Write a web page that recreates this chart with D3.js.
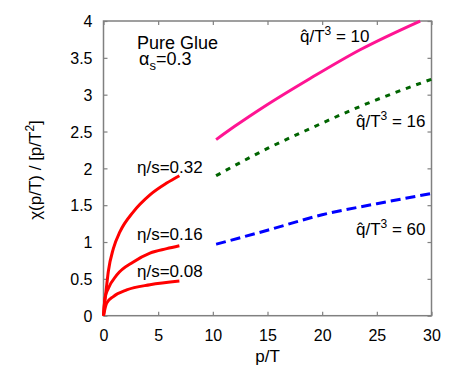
<!DOCTYPE html>
<html lang="en">
<head>
    <meta charset="UTF-8">
    <title>Pure Glue chi(p/T)</title>
    <script src="https://d3js.org/d3.v7.min.js"></script>
    <style>
        body {
            margin: 0;
            background-color: #ffffff;
            font-family: "Liberation Sans", Arial, sans-serif;
        }
        .tick text { font-size: 16px; fill: #000; }
        .lbl { fill: #000; }
    </style>
</head>
<body>
    <div id="chart"></div>

    <script>
        // values
        const xTicks = [0, 5, 10, 15, 20, 25, 30];
        const yTicks = [0, 0.5, 1, 1.5, 2, 2.5, 3, 3.5, 4];

        const eta032X = [0, 0.05, 0.23, 0.44, 0.9, 1.51, 2.73, 4.25, 5.78, 6.94];
        const eta032Y = [0, 0.10, 0.33, 0.60, 0.91, 1.14, 1.41, 1.64, 1.80, 1.90];
        const eta016X = [0, 0.14, 0.44, 1.2, 2.73, 4.25, 5.78, 6.94];
        const eta016Y = [0, 0.24, 0.37, 0.55, 0.73, 0.85, 0.91, 0.95];
        const eta008X = [0, 0.29, 0.9, 2.12, 4.25, 6.94];
        const eta008Y = [0, 0.17, 0.26, 0.35, 0.42, 0.47];

        const q10X = [10.3, 12, 14.93, 18.9, 23.47, 28.96];
        const q10Y = [2.39, 2.57, 2.86, 3.22, 3.61, 4.0];
        const q16X = [10.3, 15, 18.9, 23.47, 30];
        const q16Y = [1.90, 2.27, 2.54, 2.84, 3.21];
        const q60X = [10.3, 15, 20, 25, 30];
        const q60Y = [0.97, 1.16, 1.37, 1.52, 1.66];

        const W = 457, H = 371;
        const margin = {left: 103.5, top: 21, right: 25.5, bottom: 55.3};
        const w = W - margin.left - margin.right;
        const h = H - margin.top - margin.bottom;

        const svg = d3.select('#chart').append('svg')
            .attr('width', W)
            .attr('height', H);

        const g = svg.append('g')
            .attr('transform', `translate(${margin.left},${margin.top})`);

        const x = d3.scaleLinear().domain([0, 30]).range([0, w]);
        const y = d3.scaleLinear().domain([0, 4]).range([h, 0]);

        const axisColor = '#808080';

        // axes (ticks pointing inward, mirrored on top/right)
        const xAxis = g.append('g')
            .attr('transform', `translate(0,${h})`)
            .call(d3.axisBottom(x).tickValues(xTicks).tickSizeInner(-4).tickSizeOuter(0).tickPadding(10));
        const yAxis = g.append('g')
            .call(d3.axisLeft(y).tickValues(yTicks).tickSizeInner(-4).tickSizeOuter(0).tickPadding(11)
                .tickFormat(d3.format('')));
        g.append('g')
            .call(d3.axisTop(x).tickValues(xTicks).tickSizeInner(-4).tickSizeOuter(0).tickFormat(''));
        g.append('g')
            .attr('transform', `translate(${w},0)`)
            .call(d3.axisRight(y).tickValues(yTicks).tickSizeInner(-4).tickSizeOuter(0).tickFormat(''));

        g.selectAll('.domain').remove();
        g.selectAll('.tick line').attr('stroke', axisColor).attr('stroke-width', 1.2);
        xAxis.selectAll('.tick text').attr('dy', '0.95em');
        yAxis.selectAll('.tick text').attr('dy', '0.36em');

        g.append('rect')
            .attr('width', w).attr('height', h)
            .attr('fill', 'none')
            .attr('stroke', axisColor)
            .attr('stroke-width', 1.5);

        // curves
        const line = d3.line()
            .x(d => x(d[0]))
            .y(d => y(d[1]))
            .curve(d3.curveMonotoneX);

        const series = [
            {xs: eta032X, ys: eta032Y, color: '#ff0000', dash: null},
            {xs: eta016X, ys: eta016Y, color: '#ff0000', dash: null},
            {xs: eta008X, ys: eta008Y, color: '#ff0000', dash: null},
            {xs: q10X, ys: q10Y, color: '#ff1493', dash: null},
            {xs: q16X, ys: q16Y, color: '#006400', dash: '5,6'},
            {xs: q60X, ys: q60Y, color: '#0000ff', dash: '10,5'}
        ];

        series.forEach(s => {
            g.append('path')
                .datum(d3.zip(s.xs, s.ys))
                .attr('d', line)
                .attr('fill', 'none')
                .attr('stroke', s.color)
                .attr('stroke-width', 3)
                .attr('stroke-dasharray', s.dash);
        });

        // labels
        svg.append('text').attr('class', 'lbl')
            .attr('x', 267.5).attr('y', 362)
            .attr('text-anchor', 'middle')
            .style('font-size', '17px')
            .text('p/T');

        const yl = svg.append('text').attr('class', 'lbl')
            .attr('transform', 'translate(41,170) rotate(-90)')
            .attr('text-anchor', 'middle')
            .style('font-size', '17px');
        yl.append('tspan').text('\u03c7(p/T) / [p/T');
        yl.append('tspan').attr('dy', -7).style('font-size', '12px').text('2');
        yl.append('tspan').attr('dy', 7).text(']');

        svg.append('text').attr('class', 'lbl')
            .attr('x', 137).attr('y', 48.5)
            .style('font-size', '18px')
            .text('Pure Glue');

        const al = svg.append('text').attr('class', 'lbl')
            .attr('x', 139).attr('y', 65)
            .style('font-size', '18px');
        al.append('tspan').text('\u03b1');
        al.append('tspan').attr('dy', 5).style('font-size', '13px').text('s');
        al.append('tspan').attr('dy', -5).text('=0.3');

        const etaLabels = [
            {t: '\u03b7/s=0.32', x: 137, y: 173},
            {t: '\u03b7/s=0.16', x: 137, y: 240},
            {t: '\u03b7/s=0.08', x: 137, y: 276.5}
        ];
        etaLabels.forEach(d => {
            svg.append('text').attr('class', 'lbl')
                .attr('x', d.x).attr('y', d.y)
                .style('font-size', '17px')
                .text(d.t);
        });

        const qLabels = [
            {v: '10', x: 300, y: 42},
            {v: '16', x: 356, y: 126.5},
            {v: '60', x: 356, y: 235}
        ];
        qLabels.forEach(d => {
            const t = svg.append('text').attr('class', 'lbl')
                .attr('x', d.x).attr('y', d.y)
                .style('font-size', '17px');
            t.append('tspan').text('q\u0302/T');
            t.append('tspan').attr('dy', -7).style('font-size', '12px').text('3');
            t.append('tspan').attr('dy', 7).text(' = ' + d.v);
        });
    </script>
</body>
</html>
